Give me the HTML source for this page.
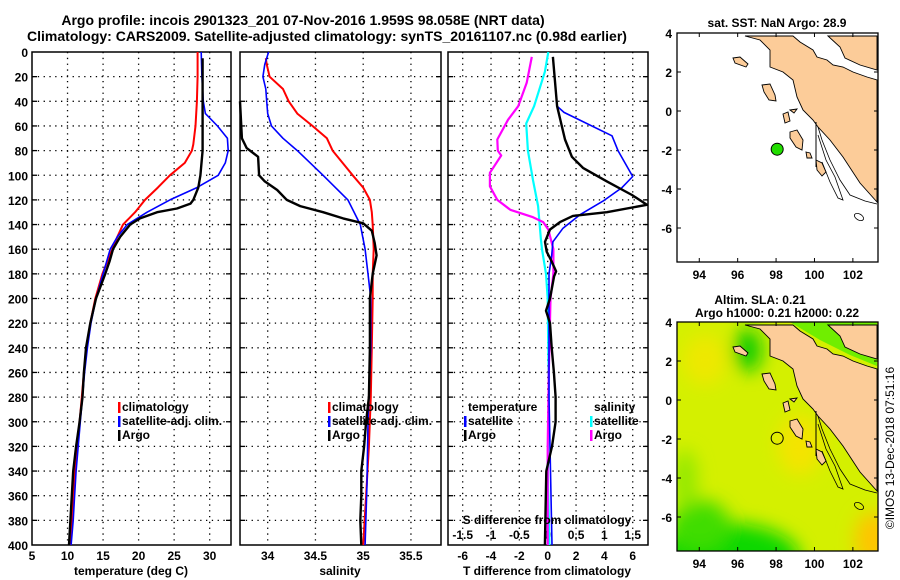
<!DOCTYPE html>
<html><head><meta charset="utf-8">
<style>
html,body{margin:0;padding:0;background:#fff;}
svg{display:block;font-family:"Liberation Sans",sans-serif;font-weight:bold;}
</style></head>
<body>
<svg id="chart" width="900" height="580" viewBox="0 0 900 580" xmlns="http://www.w3.org/2000/svg">
<text x="303" y="25" font-size="14" text-anchor="middle">Argo profile: incois 2901323_201 07-Nov-2016 1.959S 98.058E (NRT data)</text>
<text x="327" y="41" font-size="14" text-anchor="middle">Climatology: CARS2009. Satellite-adjusted climatology: synTS_20161107.nc (0.98d earlier)</text>
<g id="plots"></g>
<text x="131" y="575" font-size="12" text-anchor="middle">temperature (deg C)</text>
<text x="340" y="575" font-size="12" text-anchor="middle">salinity</text>
<text x="547" y="575" font-size="12" text-anchor="middle">T difference from climatology</text>
<text x="547" y="524" font-size="12" text-anchor="middle">S difference from climatology</text>
<text x="777" y="27" font-size="12" text-anchor="middle">sat. SST: NaN Argo: 28.9</text>
<text x="760" y="304" font-size="12" text-anchor="middle">Altim. SLA: 0.21</text>
<text x="777" y="317" font-size="12" text-anchor="middle">Argo h1000: 0.21 h2000: 0.22</text>
<text transform="translate(894,448) rotate(-90)" font-size="12" font-weight="normal" text-anchor="middle">©IMOS 13-Dec-2018 07:51:16</text>
</svg>
<script>
// ---- data ----
const depthTicks = [0,20,40,60,80,100,120,140,160,180,200,220,240,260,280,300,320,340,360,380,400];
const tempTicks = [5,10,15,20,25,30];
const salTicks = [34,34.5,35,35.5];
const salTickLabels = ["34","34.5","35","35.5"];
const tdTicks = [-6,-4,-2,0,2,4,6];
const sdTicks = [-1.5,-1,-0.5,0,0.5,1,1.5];
const sdTickLabels = ["-1.5","-1","-0.5","0","0.5","1","1.5"];

const tClimDepth = [0,20,40,60,75,80,90,100,110,120,130,140,150,160,180,200,220,240,260,280,300,320,340,360,380,400];
const tClimVal   = [28.3,28.3,28.2,28.0,27.7,27.5,26.5,24.4,22.7,20.9,19.5,17.8,17.0,16.3,14.9,13.9,13.2,12.7,12.3,12.0,11.7,11.3,11.0,10.8,10.6,10.4];
const tSatDepth = [0,20,40,50,60,70,80,90,100,110,120,130,140,150,160,180,200,220,240,260,280,300,320,340,360,380,400];
const tSatVal   = [28.8,28.9,29.1,29.4,31.1,32.5,32.6,32.2,31.2,28.2,24.4,21.2,18.4,17.0,16.0,15.0,14.0,13.3,12.8,12.4,12.1,11.8,11.5,11.2,11.0,10.8,10.5];
const tArgoDepth = [5,40,80,100,110,120,123,127,130,135,140,150,160,170,180,200,220,240,260,280,300,320,340,360,380,400];
const tArgoVal   = [29.0,29.0,29.0,28.7,28.4,27.7,27.3,25.4,22.6,20.2,18.8,17.4,16.4,15.9,15.3,14.0,13.2,12.6,12.3,12.1,11.7,11.2,10.8,10.6,10.4,10.2];

const sClimDepth = [5,10,20,30,40,50,60,70,80,100,110,120,130,140,160,180,200,240,280,320,360,400];
const sClimVal   = [33.98,33.99,34.02,34.16,34.22,34.31,34.47,34.62,34.68,34.89,35.0,35.07,35.09,35.1,35.11,35.1,35.1,35.09,35.08,35.06,35.03,35.0];
const sSatDepth = [0,10,20,30,40,50,60,70,80,100,120,140,160,180,200,240,300,350,400];
const sSatVal   = [34.01,33.97,33.95,33.98,33.99,34.0,34.04,34.16,34.31,34.58,34.84,34.97,35.02,35.05,35.08,35.08,35.05,35.04,35.02];
const sArgoDepth = [40,70,78,85,100,105,112,120,125,130,135,139,145,155,165,180,200,240,280,300,320,340,360,380,400];
const sArgoVal   = [33.71,33.73,33.78,33.9,33.91,33.97,34.1,34.2,34.34,34.58,34.79,35.0,35.09,35.12,35.14,35.1,35.07,35.07,35.06,35.03,35.01,34.98,34.98,34.97,34.98];

const dtSatDepth = [4,44,49,68,80,101,110,121,132,143,154,165,180,220,280,340,400];
const dtSatVal   = [0.37,0.66,1.15,4.54,4.96,6.0,5.24,3.9,2.28,1.08,0.37,0.28,0.09,0.09,0.09,0.2,0.3];
const dtArgoDepth = [4,44,71,85,94,105,116,124,130,133,138,144,154,162,170,178,182,200,210,220,240,260,280,300,320,340,370,400];
const dtArgoVal   = [0.37,0.66,1.22,1.71,2.49,4.18,5.95,7.0,4.18,1.78,0.87,0.16,-0.19,-0.07,0.28,0.59,0.45,0.16,-0.12,0.16,0.28,0.44,0.56,0.56,0.3,-0.1,-0.15,-0.2];
const dsSatDepth = [0,16,44,58,80,104,125,152,160,180,200,280,340,400];
const dsSatVal   = [0.01,-0.05,-0.24,-0.38,-0.35,-0.26,-0.17,-0.12,-0.1,-0.03,0.0,0.02,0.0,0.03];
const dsArgoDepth = [4,25,44,55,71,80,84,98,109,120,128,134,138,144,160,180,200,260,320,400];
const dsArgoVal   = [-0.28,-0.37,-0.52,-0.7,-0.89,-0.88,-0.82,-1.02,-1.02,-0.89,-0.66,-0.26,-0.08,0.01,0.1,0.1,0.05,0.02,0.0,0.0];

const mapLonTicks = [94,96,98,100,102];
const mapLatTicks = [-6,-4,-2,0,2,4];
const argoLon = [98.058];
const argoLat = [-1.959];

// ---- helpers ----
const NS = "http://www.w3.org/2000/svg";
const root = document.getElementById("plots");
function mk(tag, attrs, parent){ const e=document.createElementNS(NS,tag); for(const k in attrs) e.setAttribute(k,attrs[k]); (parent||root).appendChild(e); return e; }
const Y0=52, Y1=545;
function yD(d){ return Y0 + d*(Y1-Y0)/400; }

const panels = [
  {name:"temperature", x0:32, x1:231, vmin:5, vmax:33},
  {name:"salinity", x0:240, x1:441, vmin:33.71, vmax:33.71+201/95.5},
  {name:"t-difference", x0:448, x1:648, vmin:-(547.7-448)/14.17, vmax:(648-547.7)/14.17}
];
function xScale(p, v){ return p.x0 + (v-p.vmin)*(p.x1-p.x0)/(p.vmax-p.vmin); }
function xS(v){ return xScale(panels[2], v*4); }

function gridAndFrame(p, xticks){
  const g = mk("g",{});
  
  
  depthTicks.forEach(d=>{ if(d>0&&d<400){
    const l=mk("line",{x1:p.x0,x2:p.x1,y1:yD(d),y2:yD(d),stroke:"#000","stroke-width":1.3,"stroke-dasharray":"1.3 4.5"},g);
    
    
    mk("line",{x1:p.x0,x2:p.x0+5,y1:yD(d),y2:yD(d),stroke:"#000","stroke-width":1.3},g);
    mk("line",{x1:p.x1-5,x2:p.x1,y1:yD(d),y2:yD(d),stroke:"#000","stroke-width":1.3},g);
  }});
  xticks.forEach(x=>{ if(x>p.x0+2&&x<p.x1-2){
    const l=mk("line",{x1:x,x2:x,y1:Y0,y2:Y1,stroke:"#000","stroke-width":1.3,"stroke-dasharray":"1.3 4.5"},g);
    
    
  }});
  const r=mk("rect",{x:p.x0,y:Y0,width:p.x1-p.x0,height:Y1-Y0,fill:"none",stroke:"#000","stroke-width":1.5},g);
  
  
  return g;
}
function series(p, depths, vals, color, w, name, fx){
  const pts = depths.map((d,i)=> (fx?fx(vals[i]):xScale(p,vals[i])).toFixed(1)+","+yD(d).toFixed(1)).join(" ");
  const pl = mk("polyline",{points:pts,fill:"none",stroke:color,"stroke-width":w,"stroke-linejoin":"round"});
  
  
}
function legend(x, y, color, label, name){
  const b=mk("rect",{x:x,y:y-9,width:2.5,height:11,fill:color});
  
  
  const t=mk("text",{x:x+4,y:y,"font-size":12});
  t.textContent=label;
  
  
}

// y axis labels
depthTicks.forEach(d=>{
  const t=mk("text",{x:28,y:yD(d)+5,"font-size":12,"text-anchor":"end"});
  t.textContent=d;
  
  
});

// panel 1
const p1=panels[0];
gridAndFrame(p1, tempTicks.map(v=>xScale(p1,v)));
tempTicks.forEach(v=>{
  const t=mk("text",{x:xScale(p1,v),y:560,"font-size":12,"text-anchor":"middle"});
  t.textContent=v;
  
  
});
series(p1,tClimDepth,tClimVal,"#f00",2,"temperature-climatology-line");
series(p1,tSatDepth,tSatVal,"#00f",1.6,"temperature-satellite-line");
series(p1,tArgoDepth,tArgoVal,"#000",2.4,"temperature-argo-line");
legend(118,411,"#f00","climatology","legend-climatology-t");
legend(118,425,"#00f","satellite-adj. clim.","legend-satellite-t");
legend(118,439,"#000","Argo","legend-argo-t");

// panel 2
const p2=panels[1];
gridAndFrame(p2, salTicks.map(v=>xScale(p2,v)));
salTicks.forEach((v,i)=>{
  const t=mk("text",{x:xScale(p2,v),y:560,"font-size":12,"text-anchor":"middle"});
  t.textContent=salTickLabels[i];
  
  
});
series(p2,sClimDepth,sClimVal,"#f00",2,"salinity-climatology-line");
series(p2,sSatDepth,sSatVal,"#00f",1.6,"salinity-satellite-line");
series(p2,sArgoDepth,sArgoVal,"#000",2.4,"salinity-argo-line");
legend(328,411,"#f00","climatology","legend-climatology-s");
legend(328,425,"#00f","satellite-adj. clim.","legend-satellite-s");
legend(328,439,"#000","Argo","legend-argo-s");

// panel 3
const p3=panels[2];
gridAndFrame(p3, tdTicks.map(v=>xScale(p3,v)));
tdTicks.forEach(v=>{
  const t=mk("text",{x:xScale(p3,v),y:560,"font-size":12,"text-anchor":"middle"});
  t.textContent=v;
  
  
});
sdTicks.forEach((v,i)=>{
  const t=mk("text",{x:xS(v),y:539,"font-size":12,"text-anchor":"middle"});
  t.textContent=sdTickLabels[i];
  
  
});
series(p3,dsSatDepth,dsSatVal,"#0ff",2.2,"s-diff-satellite-line",xS);
series(p3,dsArgoDepth,dsArgoVal,"#f0f",2.2,"s-diff-argo-line",xS);
series(p3,dtSatDepth,dtSatVal,"#00f",1.6,"t-diff-satellite-line");
series(p3,dtArgoDepth,dtArgoVal,"#000",2.4,"t-diff-argo-line");
(function(){const t=mk("text",{x:468,y:411,"font-size":12});t.textContent="temperature";})();
(function(){const t=mk("text",{x:594,y:411,"font-size":12});t.textContent="salinity";})();
legend(464,425,"#00f","satellite","legend-t-satellite");
legend(464,439,"#000","Argo","legend-t-argo");
legend(590,425,"#0ff","satellite","legend-s-satellite");
legend(590,439,"#f0f","Argo","legend-s-argo");

// ---- maps ----
const maps=[{name:"sst-map",top:33,bottom:262},{name:"sla-map",top:322,bottom:551}];
const MX0=677, MX1=878;
function mx(lon){ return MX0 + (lon-92.84)*19.2; }
const landSumatra="745,36 760,40 770,50 770,67 783,72 793,80 797,97 803,110 813,120 818,127 830,140 843,157 860,183 877,202 877,80 867,77 853,72 843,67 833,65 827,60 817,57 813,50 800,42 793,36";
const landMalay="828,36 840,47 845,58 860,65 877,70 877,36";
const islands=["733,58 740,57 748,64 746,67 735,63","762,85 770,84 775,95 776,101 769,100 764,92","790,132 797,130 803,140 802,150 796,147 790,138","806,152 810,153 812,158 807,158","816,160 822,163 826,172 822,176 817,170","783,114 788,112 790,121 785,123","790,110 797,109 794,113"];
maps.forEach((m,mi)=>{
  const g=mk("g",{});
  
  
  const my=lat=> m.top + (4-lat)*19.5;
  const clipId="clip"+mi;
  const cp=mk("clipPath",{id:clipId},g); mk("rect",{x:MX0,y:m.top,width:MX1-MX0,height:m.bottom-m.top},cp);
  const inner=mk("g",{"clip-path":"url(#"+clipId+")"},g);
  if(mi===1){
    const defs=mk("defs",{},inner);
    const f=mk("filter",{id:"blur1",x:"-50%",y:"-50%",width:"200%",height:"200%"},defs);
    mk("feGaussianBlur",{stdDeviation:9},f);
    mk("rect",{x:MX0,y:m.top,width:MX1-MX0,height:m.bottom-m.top,fill:"#d4f000"},inner);
    const bl=mk("g",{filter:"url(#blur1)"},inner);
    mk("ellipse",{cx:725,cy:558,rx:75,ry:35,fill:"#10d800"},bl);
    mk("ellipse",{cx:700,cy:525,rx:30,ry:25,fill:"#40dd00"},bl);
    mk("ellipse",{cx:685,cy:480,rx:12,ry:30,fill:"#90e800"},bl);
    mk("ellipse",{cx:748,cy:350,rx:14,ry:22,fill:"#10cc00"},bl);
    mk("ellipse",{cx:800,cy:445,rx:22,ry:30,fill:"#f4e400"},bl);
    mk("ellipse",{cx:873,cy:540,rx:18,ry:28,fill:"#ffc400"},bl);
    mk("ellipse",{cx:705,cy:360,rx:22,ry:25,fill:"#eee800"},bl);
    mk("polygon",{points:"790,322 877,322 877,366 850,355 820,340",fill:"#70ee00"},inner);
  }
  const lg=mk("g",{transform:"translate(0,"+(m.top-33)+")"},inner);
  [landSumatra,landMalay].concat(islands).forEach(pts=>{
    const p=mk("polygon",{points:pts,fill:"#fccc99",stroke:"#000","stroke-width":0.9},lg);
    
    
  });
  mk("polyline",{points:"816,122 816,167",fill:"none",stroke:"#000","stroke-width":1},lg);
  mk("polyline",{points:"818,127 822,140 830,160 840,180 850,195 865,201 877,204",fill:"none",stroke:"#000","stroke-width":0.8},lg);
  mk("polyline",{points:"818,135 826,160 835,177 843,200 838,198 830,182 822,162",fill:"none",stroke:"#000","stroke-width":0.8},lg);
  mk("ellipse",{cx:859,cy:217,rx:5,ry:3,fill:"none",stroke:"#000","stroke-width":0.8,transform:"rotate(30 859 217)"},lg);
  const r=mk("rect",{x:MX0,y:m.top,width:MX1-MX0,height:m.bottom-m.top,fill:"none",stroke:"#000","stroke-width":1.3},g);
  
  
  mapLatTicks.forEach(lat=>{
    const t=mk("text",{x:672,y:my(lat)+5,"font-size":12,"text-anchor":"end"},g);
    t.textContent=lat;
    
    
    mk("line",{x1:MX0,x2:MX0+4,y1:my(lat),y2:my(lat),stroke:"#000"},g);
    mk("line",{x1:MX1-4,x2:MX1,y1:my(lat),y2:my(lat),stroke:"#000"},g);
  });
  mapLonTicks.forEach(lon=>{
    const t=mk("text",{x:mx(lon),y:m.bottom+17,"font-size":12,"text-anchor":"middle"},g);
    t.textContent=lon;
    
    
    mk("line",{x1:mx(lon),x2:mx(lon),y1:m.top,y2:m.top+4,stroke:"#000"},g);
    mk("line",{x1:mx(lon),x2:mx(lon),y1:m.bottom-4,y2:m.bottom,stroke:"#000"},g);
  });
  argoLon.forEach((lon,i)=>{
    const c=mk("circle",{cx:mx(lon),cy:my(argoLat[i]),r:6,fill:mi===0?"#22dd00":"none",stroke:"#000","stroke-width":1},g);
    
    
  });
});
</script>
</body></html>
